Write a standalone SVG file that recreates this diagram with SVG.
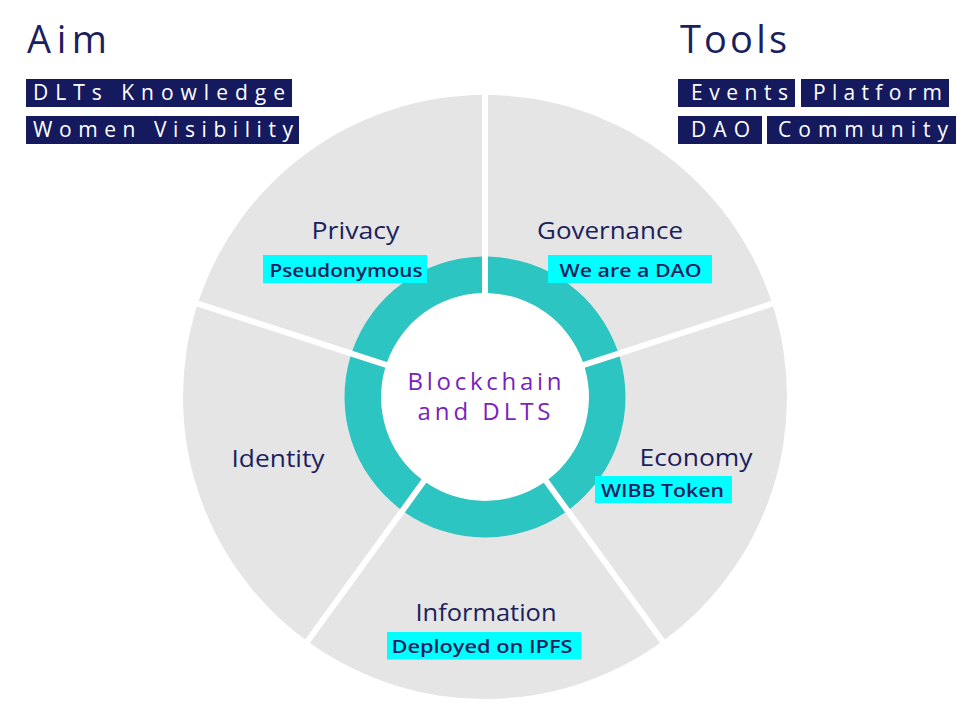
<svg xmlns="http://www.w3.org/2000/svg" width="973" height="718" viewBox="0 0 973 718">
<style>
.seg{fill:#e5e5e5}
.ring{fill:#2dc5c1}
.lbl{font-family:"Open Sans","Noto Sans","Liberation Sans",sans-serif;font-weight:400;font-size:24px;fill:#1c1f5e;text-anchor:middle}
.tag{fill:#00ffff}
.tagt{font-family:"Open Sans","Noto Sans","Liberation Sans",sans-serif;font-weight:600;font-size:18.5px;fill:#1c1f5e;text-anchor:middle}
.hd{font-family:"Open Sans","Noto Sans","Liberation Sans",sans-serif;font-weight:400;font-size:38px;fill:#1c1f5e}
.box{fill:#151a5e}
.boxt{font-family:"Open Sans","Noto Sans","Liberation Sans",sans-serif;font-weight:400;font-size:21px;fill:#ffffff}
.ctr{font-family:"Open Sans","Noto Sans","Liberation Sans",sans-serif;font-weight:400;font-size:24px;fill:#7a1fc0;text-anchor:middle}
</style>
<rect width="973" height="718" fill="#ffffff"/>

<g id="aim">
<text class="hd" x="27" y="53" textLength="80" lengthAdjust="spacing">Aim</text>
<rect class="box" x="26" y="79" width="266" height="28"/>
<text class="boxt" x="33" y="100" textLength="252" lengthAdjust="spacing">DLTs Knowledge</text>
<rect class="box" x="26" y="116" width="273" height="28"/>
<text class="boxt" x="33" y="137" textLength="260" lengthAdjust="spacing">Women Visibility</text>
</g>

<g id="tools">
<text class="hd" x="680" y="53" textLength="107" lengthAdjust="spacing">Tools</text>
<rect class="box" x="678" y="79" width="117" height="28"/>
<text class="boxt" x="691" y="100" textLength="97" lengthAdjust="spacing">Events</text>
<rect class="box" x="801" y="79" width="148" height="28"/>
<text class="boxt" x="813" y="100" textLength="129" lengthAdjust="spacing">Platform</text>
<rect class="box" x="678" y="116" width="84" height="28"/>
<text class="boxt" x="691" y="137" textLength="59" lengthAdjust="spacing">DAO</text>
<rect class="box" x="767" y="116" width="189" height="28"/>
<text class="boxt" x="778" y="137" textLength="170" lengthAdjust="spacing">Community</text>
</g>

<g id="governance">
<path class="seg" d="M488 95.02 A302 302 0 0 1 771.28 300.83 L582.94 362.02 A104 104 0 0 0 488 293.04 Z"/>
<path class="ring" d="M488 256.53 A140.5 140.5 0 0 1 617.67 350.74 L582.94 362.02 A104 104 0 0 0 488 293.04 Z"/>
<text class="lbl" x="610" y="239" textLength="146" lengthAdjust="spacingAndGlyphs">Governance</text>
<rect class="tag" x="548" y="255" width="164" height="28"/>
<text class="tagt" x="630.5" y="277" textLength="142" lengthAdjust="spacingAndGlyphs">We are a DAO</text>
</g>

<g id="economy">
<path class="seg" d="M773.13 306.54 A302 302 0 0 1 664.93 639.55 L548.53 479.34 A104 104 0 0 0 584.80 367.73 Z"/>
<path class="ring" d="M619.52 356.45 A140.5 140.5 0 0 1 569.99 508.88 L548.53 479.34 A104 104 0 0 0 584.80 367.73 Z"/>
<text class="lbl" x="696" y="466" textLength="113" lengthAdjust="spacingAndGlyphs">Economy</text>
<rect class="tag" x="595" y="476" width="137" height="27"/>
<text class="tagt" x="662.5" y="497" textLength="123" lengthAdjust="spacingAndGlyphs">WIBB Token</text>
</g>

<g id="information">
<path class="seg" d="M660.08 643.07 A302 302 0 0 1 309.93 643.07 L426.32 482.87 A104 104 0 0 0 543.68 482.87 Z"/>
<path class="ring" d="M565.14 512.40 A140.5 140.5 0 0 1 404.86 512.40 L426.32 482.87 A104 104 0 0 0 543.68 482.87 Z"/>
<text class="lbl" x="486" y="620.5" textLength="141" lengthAdjust="spacingAndGlyphs">Information</text>
<rect class="tag" x="387" y="632" width="194" height="27.5"/>
<text class="tagt" x="482" y="653" textLength="181" lengthAdjust="spacingAndGlyphs">Deployed on IPFS</text>
</g>

<g id="identity">
<path class="seg" d="M305.07 639.55 A302 302 0 0 1 196.87 306.54 L385.20 367.73 A104 104 0 0 0 421.47 479.34 Z"/>
<path class="ring" d="M400.01 508.88 A140.5 140.5 0 0 1 350.48 356.45 L385.20 367.73 A104 104 0 0 0 421.47 479.34 Z"/>
<text class="lbl" x="278" y="466.5" textLength="93" lengthAdjust="spacingAndGlyphs">Identity</text>
</g>

<g id="privacy">
<path class="seg" d="M198.72 300.83 A302 302 0 0 1 482 95.02 L482 293.04 A104 104 0 0 0 387.06 362.02 Z"/>
<path class="ring" d="M352.33 350.74 A140.5 140.5 0 0 1 482 256.53 L482 293.04 A104 104 0 0 0 387.06 362.02 Z"/>
<text class="lbl" x="355.5" y="239" textLength="88" lengthAdjust="spacingAndGlyphs">Privacy</text>
<rect class="tag" x="263" y="255" width="164" height="28"/>
<text class="tagt" x="346" y="277" textLength="153" lengthAdjust="spacingAndGlyphs">Pseudonymous</text>
</g>

<g id="center">
<text class="ctr" x="484.5" y="390" textLength="154" lengthAdjust="spacing">Blockchain</text>
<text class="ctr" x="484" y="420" textLength="133" lengthAdjust="spacing">and DLTS</text>
</g>

<g id="connectors"></g>
</svg>
